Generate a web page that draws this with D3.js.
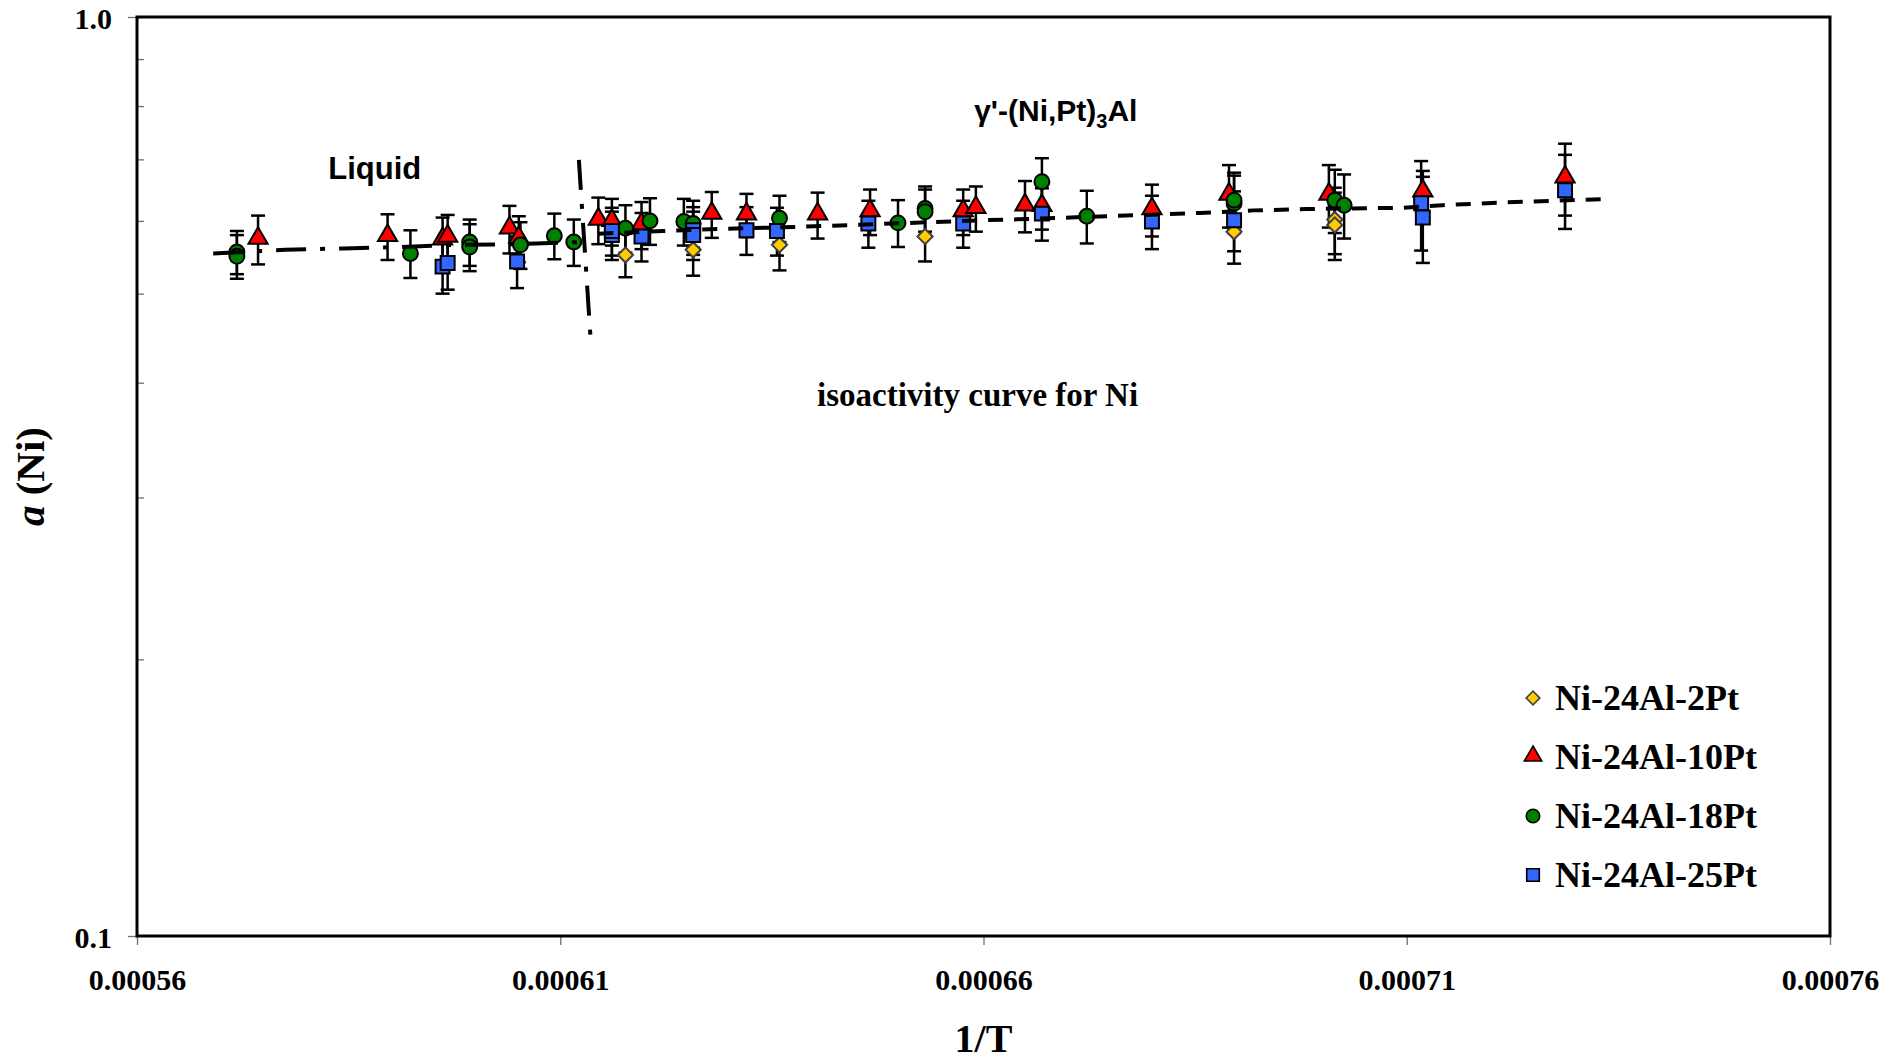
<!DOCTYPE html>
<html>
<head>
<meta charset="utf-8">
<script src="https://cdn.jsdelivr.net/npm/d3@7"></script>
<style>
  body { margin: 0; background: #fff; }
  .tick-label { font-family: 'Liberation Serif', 'Times New Roman', serif; font-weight: bold; font-size: 30px; fill: #000; }
  .axis-title { font-family: 'Liberation Serif', 'Times New Roman', serif; font-weight: bold; font-size: 41px; fill: #000; }
  .legend-label { font-family: 'Liberation Serif', 'Times New Roman', serif; font-weight: bold; font-size: 36px; fill: #000; }
  .note-sans { font-family: 'Liberation Sans', Arial, sans-serif; font-weight: bold; font-size: 30px; fill: #000; }
  .note-serif { font-family: 'Liberation Serif', 'Times New Roman', serif; font-weight: bold; font-size: 33px; fill: #000; }
</style>
</head>
<body>
<div id="chart"></div>
<script>
const container_id = 'chart';
const width = 1886, height = 1063;
const margin = {
    top: 17,
    bottom: 127,
    left: 137,
    right: 56
}

const graph_width = width - (margin.left + margin.right)
const graph_height = height - (margin.top + margin.bottom)

// axis ticks
const x_ticks = [0.00056, 0.00061, 0.00066, 0.00071, 0.00076]
const y_ticks = [0.1, 1.0]
const y_minor = [0.2, 0.3, 0.4, 0.5, 0.6, 0.7, 0.8, 0.9]

// series: 1/T, a(Ni), error
const names = ['Ni-24Al-2Pt', 'Ni-24Al-10Pt', 'Ni-24Al-18Pt', 'Ni-24Al-25Pt']

const pt2_x = [0.0006177, 0.0006257, 0.0006359, 0.0006531, 0.0006896, 0.0007015, 0.0007015]
const pt2_y = [0.551, 0.558, 0.565, 0.577, 0.584, 0.602, 0.594]
const pt2_e = [0.030, 0.035, 0.035, 0.035, 0.045, 0.050, 0.050]

const pt10_x = [0.0005743, 0.0005896, 0.0005961, 0.0005967, 0.0006040, 0.0006051, 0.0006145, 0.0006161,
                0.0006196, 0.0006279, 0.0006320, 0.0006404, 0.0006466, 0.0006576, 0.0006591, 0.0006649,
                0.0006669, 0.0006799, 0.0006890, 0.0007008, 0.0007119, 0.0007287]
const pt10_y = [0.573, 0.577, 0.572, 0.576, 0.588, 0.574, 0.601, 0.599,
                0.594, 0.610, 0.609, 0.609, 0.614, 0.614, 0.619, 0.623,
                0.622, 0.617, 0.640, 0.640, 0.645, 0.668]
const pt10_e = [0.035, 0.033, 0.033, 0.033, 0.035, 0.033, 0.035, 0.035,
                0.035, 0.035, 0.033, 0.035, 0.035, 0.035, 0.035, 0.040,
                0.035, 0.040, 0.050, 0.050, 0.035, 0.060]

const pt18_x = [0.0005718, 0.0005718, 0.0005923, 0.0005993, 0.0005993, 0.0006053, 0.0006093, 0.0006116,
                0.0006177, 0.0006206, 0.0006246, 0.0006257, 0.0006359, 0.0006499, 0.0006531, 0.0006531,
                0.0006669, 0.0006722, 0.0006896, 0.0006896, 0.0007015, 0.0007026]
const pt18_y = [0.555, 0.549, 0.553, 0.569, 0.562, 0.565, 0.578, 0.569,
                0.589, 0.600, 0.599, 0.596, 0.604, 0.597, 0.619, 0.614,
                0.662, 0.607, 0.627, 0.632, 0.632, 0.624]
const pt18_e = [0.030, 0.030, 0.033, 0.033, 0.033, 0.033, 0.033, 0.033,
                0.035, 0.035, 0.035, 0.035, 0.035, 0.035, 0.035, 0.035,
                0.040, 0.040, 0.045, 0.045, 0.050, 0.050]

const pt25_x = [0.0005961, 0.0005967, 0.0006049, 0.0006161, 0.0006161, 0.0006196, 0.0006257, 0.0006257,
                0.0006320, 0.0006356, 0.0006464, 0.0006576, 0.0006669, 0.0006799, 0.0006896, 0.0007117,
                0.0007119, 0.0007287]
const pt25_y = [0.535, 0.540, 0.542, 0.579, 0.585, 0.577, 0.586, 0.579,
                0.586, 0.585, 0.596, 0.596, 0.611, 0.599, 0.601, 0.627,
                0.605, 0.648]
const pt25_e = [0.035, 0.035, 0.035, 0.035, 0.035, 0.035, 0.035, 0.035,
                0.035, 0.035, 0.035, 0.035, 0.040, 0.040, 0.045, 0.070,
                0.065, 0.060]

// isoactivity curves
const liquid_x = [0.000569, 0.0005775, 0.0005844, 0.0005913, 0.0005979, 0.0006049, 0.0006123]
const liquid_y = [0.553, 0.558, 0.560, 0.562, 0.565, 0.566, 0.569]
const gamma_x = [0.0006145, 0.0006222, 0.0006287, 0.000638, 0.000645, 0.00066, 0.0006632,
                 0.0006856, 0.0006919, 0.0006982, 0.0007094, 0.0007142, 0.0007208, 0.000734]
const gamma_y = [0.581, 0.585, 0.588, 0.591, 0.594, 0.601, 0.602,
                 0.612, 0.616, 0.618, 0.620, 0.624, 0.628, 0.634]
const boundary_x = [0.0006122, 0.0006136]
const boundary_y = [0.699, 0.4446]

const xScale = d3.scaleLinear().domain([0.00056, 0.00076]).range([0, graph_width]);
const yScale = d3.scaleLog().domain([0.1, 1]).range([graph_height, 0]);

const zip = (xs, ys, es) => xs.map((x, i) => ({x: x, y: ys[i], e: es ? es[i] : 0}));

const series = [
    {name: names[0], pts: zip(pt2_x, pt2_y, pt2_e), shape: 'diamond', fill: '#ffcc00', stroke: '#404040'},
    {name: names[1], pts: zip(pt10_x, pt10_y, pt10_e), shape: 'triangle', fill: '#ff0000', stroke: '#000'},
    {name: names[2], pts: zip(pt18_x, pt18_y, pt18_e), shape: 'circle', fill: '#008000', stroke: '#000'},
    {name: names[3], pts: zip(pt25_x, pt25_y, pt25_e), shape: 'square', fill: '#3366ff', stroke: '#000'}
];

const symbols = {
    diamond: d3.symbol().type(d3.symbolSquare).size(115),
    triangle: d3.symbol().type(d3.symbolTriangle).size(160),
    circle: d3.symbol().type(d3.symbolCircle).size(175),
    square: d3.symbol().type(d3.symbolSquare).size(195)
};

function markerTransform(shape, x, y) {
    let t = 'translate(' + x + ',' + y + ')';
    if (shape == 'diamond') t += ' rotate(45)';
    if (shape == 'triangle') t += ' translate(0,-1)';
    return t;
}

function drawXAxis(svg) {
    let g = svg.append('g')
        .attr('transform', 'translate(' + margin.left + ',' + (margin.top + graph_height) + ')')
        .call(d3.axisBottom(xScale).tickValues(x_ticks).tickFormat(d3.format('.5f')).tickSize(9).tickPadding(24));
    g.select('.domain').remove();
    g.selectAll('line').attr('stroke', '#707070').attr('stroke-width', 1.3);
    g.selectAll('text').attr('class', 'tick-label').attr('font-size', null).attr('font-family', null);
}

function drawYAxis(svg) {
    let g = svg.append('g')
        .attr('transform', 'translate(' + margin.left + ',' + margin.top + ')')
        .call(d3.axisLeft(yScale).tickValues(y_ticks).tickFormat(d3.format('.1f')).tickSize(9).tickPadding(16));
    g.select('.domain').remove();
    g.selectAll('line').attr('stroke', '#707070').attr('stroke-width', 1.3);
    g.selectAll('text').attr('class', 'tick-label').attr('font-size', null).attr('font-family', null).attr('dy', '0.38em');

    let m = svg.append('g')
        .attr('transform', 'translate(' + margin.left + ',' + margin.top + ')')
        .call(d3.axisRight(yScale).tickValues(y_minor).tickFormat('').tickSize(7));
    m.select('.domain').remove();
    m.selectAll('line').attr('stroke', '#707070').attr('stroke-width', 1.3);
}

function drawLines(group) {
    let line = d3.line().x(d => xScale(d.x)).y(d => yScale(d.y));
    group.append('path')
        .attr('d', line(zip(liquid_x, liquid_y)))
        .attr('fill', 'none').attr('stroke', '#000').attr('stroke-width', 4)
        .attr('stroke-dasharray', '30,14,5,14');
    group.append('path')
        .attr('d', line(zip(gamma_x, gamma_y)))
        .attr('fill', 'none').attr('stroke', '#000').attr('stroke-width', 4)
        .attr('stroke-dasharray', '15,11');
    group.append('path')
        .attr('d', line(zip(boundary_x, boundary_y)))
        .attr('fill', 'none').attr('stroke', '#000').attr('stroke-width', 4)
        .attr('stroke-dasharray', '30,14,5,14');
}

function drawErrorBars(group) {
    series.forEach(function(s) {
        let eb = group.append('g').attr('stroke', '#000').attr('stroke-width', 2.5);
        s.pts.forEach(function(d) {
            let x = xScale(d.x), y1 = yScale(d.y + d.e), y2 = yScale(d.y - d.e);
            eb.append('line').attr('x1', x).attr('x2', x).attr('y1', y1).attr('y2', y2);
            eb.append('line').attr('x1', x - 7).attr('x2', x + 7).attr('y1', y1).attr('y2', y1);
            eb.append('line').attr('x1', x - 7).attr('x2', x + 7).attr('y1', y2).attr('y2', y2);
        });
    });
}

function drawDots(group) {
    series.forEach(function(s) {
        group.append('g').selectAll('path')
            .data(s.pts)
            .enter()
            .append('path')
            .attr('d', symbols[s.shape])
            .attr('transform', d => markerTransform(s.shape, xScale(d.x), yScale(d.y)))
            .attr('fill', s.fill)
            .attr('stroke', s.stroke)
            .attr('stroke-width', 2);
    });
}

function drawLegend(svg) {
    let lg = svg.append('g').attr('transform', 'translate(1533,698)');
    series.forEach(function(s, i) {
        let row = lg.append('g').attr('transform', 'translate(0,' + (i * 59) + ')');
        row.append('path')
            .attr('d', symbols[s.shape])
            .attr('transform', markerTransform(s.shape, 0, 0) + ' scale(0.9)')
            .attr('fill', s.fill)
            .attr('stroke', s.stroke)
            .attr('stroke-width', 1.8);
        row.append('text')
            .attr('class', 'legend-label')
            .attr('x', 22)
            .attr('dy', '0.34em')
            .text(s.name);
    });
}

// label anchors in data units
const liquid_label = [0.0005826, 0.666]
const gamma_label = [0.0006589, 0.770]
const iso_label = [0.0006593, 0.3773]

function drawNotes(group) {
    group.append('text').attr('class', 'note-sans')
        .attr('x', xScale(liquid_label[0])).attr('y', yScale(liquid_label[1]))
        .style('font-size', '31px')
        .text('Liquid');
    let g = group.append('text').attr('class', 'note-sans')
        .attr('x', xScale(gamma_label[0])).attr('y', yScale(gamma_label[1]));
    g.append('tspan').text("\u03b3'-(Ni,Pt)");
    g.append('tspan').attr('dy', 7).style('font-size', '20px').text('3');
    g.append('tspan').attr('dy', -7).text('Al');
    group.append('text').attr('class', 'note-serif')
        .attr('x', xScale(iso_label[0])).attr('y', yScale(iso_label[1]))
        .attr('text-anchor', 'middle')
        .text('isoactivity curve for Ni');
}

function drawChart() {
    let svg = d3.select('#' + container_id)
                .append('svg')
                .attr('width', width)
                .attr('height', height);

    svg.append('rect').attr('width', width).attr('height', height).attr('fill', '#fff');

    drawXAxis(svg)
    drawYAxis(svg)

    let group = svg.append('g')
        .attr('transform', 'translate(' + margin.left + ',' + margin.top + ')');
    drawErrorBars(group)
    drawDots(group)
    drawLines(group)
    drawNotes(group)

    group.append('rect')
        .attr('width', graph_width).attr('height', graph_height)
        .attr('fill', 'none').attr('stroke', '#000').attr('stroke-width', 3);

    drawLegend(svg)

    svg.append('text')
        .attr('class', 'axis-title')
        .attr('x', margin.left + graph_width / 2)
        .attr('y', 1052)
        .attr('text-anchor', 'middle')
        .style('font-size', '40px')
        .text('1/T');
    let yt = svg.append('text')
        .attr('class', 'axis-title')
        .attr('text-anchor', 'middle')
        .attr('transform', 'translate(44,' + (margin.top + graph_height / 2) + ') rotate(-90)');
    yt.append('tspan').style('font-style', 'italic').text('a');
    yt.append('tspan').text(' (Ni)');
}

drawChart();
</script>
</body>
</html>
